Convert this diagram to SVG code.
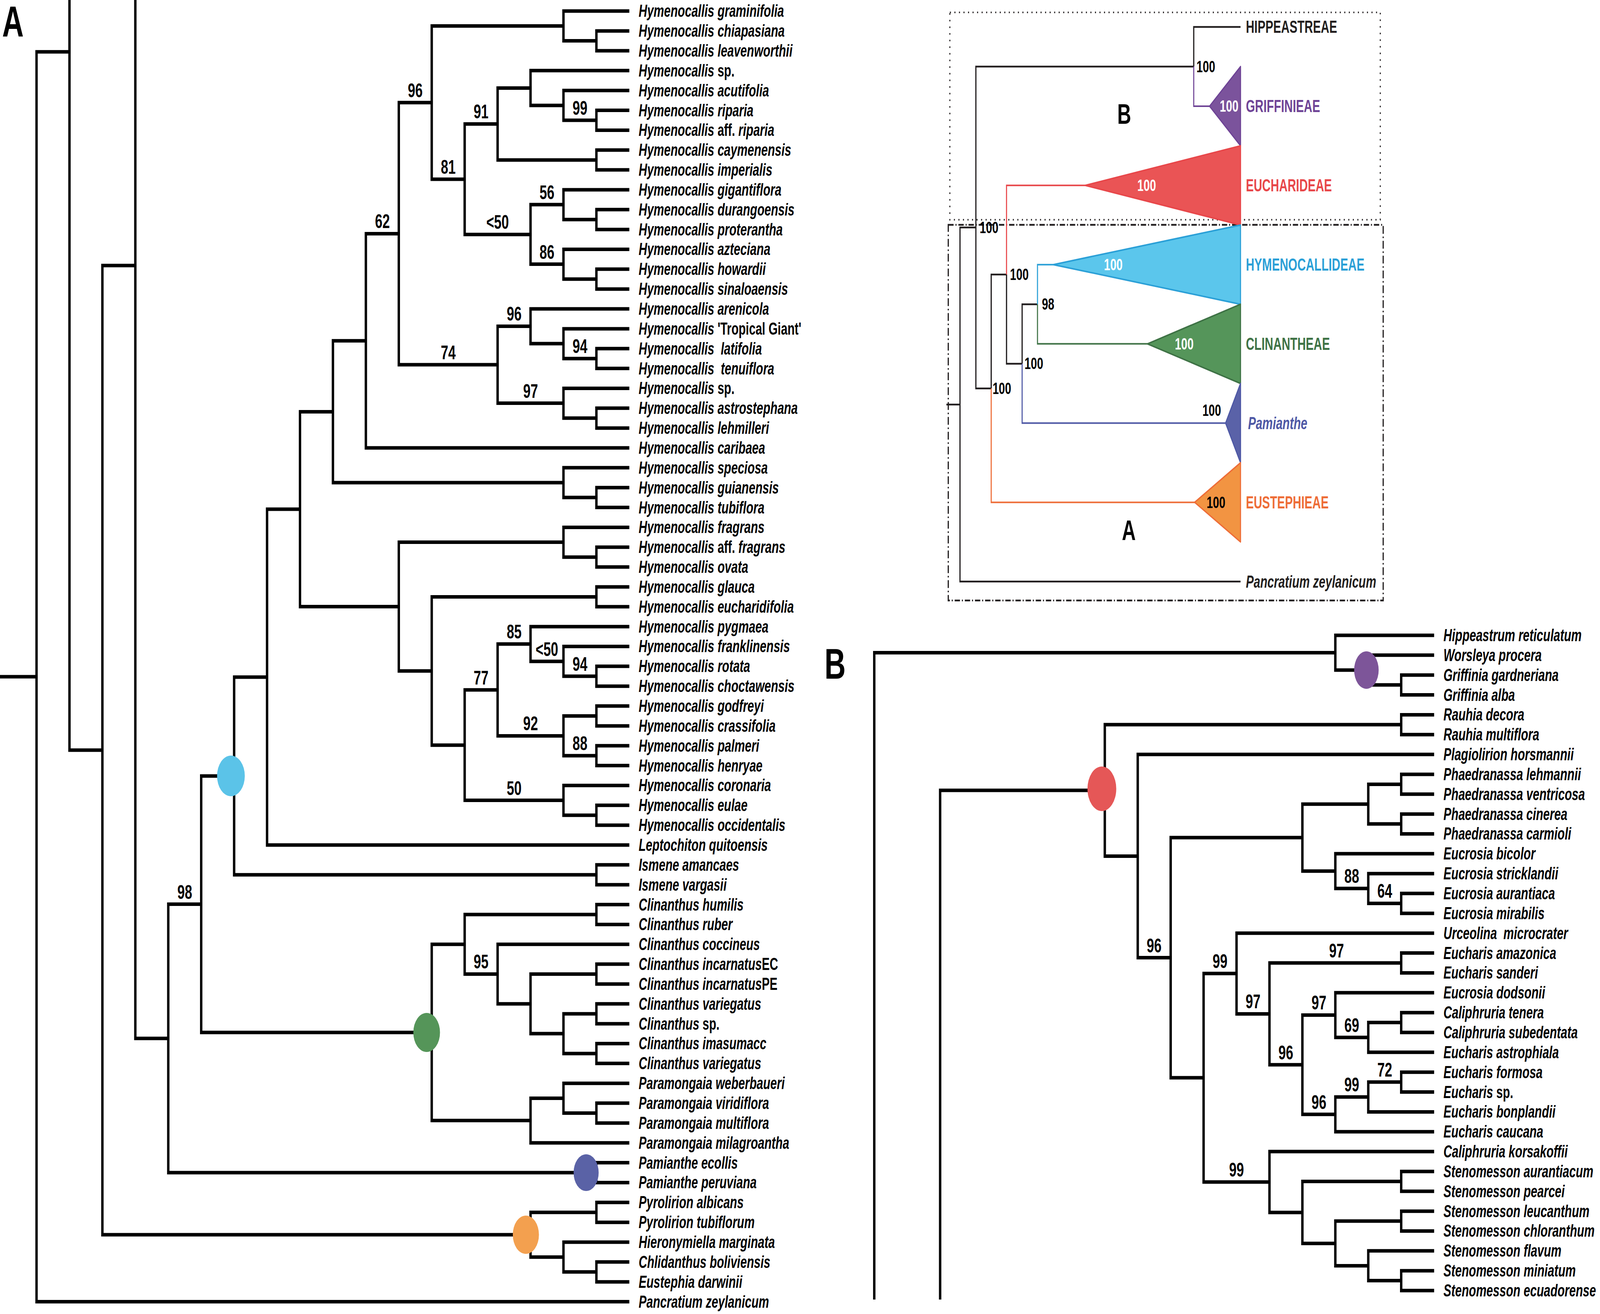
<svg xmlns="http://www.w3.org/2000/svg" width="6000" height="3365" viewBox="0 0 6000 3365" preserveAspectRatio="none">
<style>
svg{width:100vw;height:100vh;display:block}
.br{fill:none;stroke:#000;stroke-width:9;stroke-linejoin:miter}
.lf{font-family:"Liberation Sans",Arial,sans-serif;font-size:44px;font-weight:bold;font-style:italic;fill:#000}
.up{font-style:normal}
.bs{font-family:"Liberation Sans",Arial,sans-serif;font-size:50px;font-weight:bold;text-anchor:middle;fill:#000}
.ib{font-family:"Liberation Sans",Arial,sans-serif;font-size:42px;font-weight:bold;fill:#000}
.iw{fill:#fff}
.il{font-family:"Liberation Sans",Arial,sans-serif;font-size:44px;font-weight:bold}
.big{font-family:"Liberation Sans",Arial,sans-serif;font-weight:bold;fill:#000}
.ik{fill:none;stroke:#231f20;stroke-width:4.5}
</style>
<rect width="6000" height="3365" fill="#fff"/>

<!-- Panel letters -->
<text class="big" x="8" y="94" font-size="112">A</text>
<text class="big" x="3092" y="1738" font-size="110">B</text>

<!-- ============ PANEL A connectors ============ -->
<g id="connectorsA" class="br">
<path d="M0 1733.1 H137"/>
<path d="M260.5 132.7 H137 V3333.55 H2360"/>
<path d="M260.5 -10 V1921 H384"/>
<path d="M507.5 680 H384 V3162 H1989.5"/>
<path d="M507.5 -10 V2659.3 H631"/>
<path d="M754.5 2315.6 H631 V3003 H2236.5"/>
<path d="M878 1987.2 H754.5 V2644 H1619"/>
<path d="M1001.5 1734 H878 V2240.3 H2236.5"/>
<path d="M1125 1304 H1001.5 V2164 H2360"/>
<path d="M1248.5 1054.4 H1125 V1553.5 H1495.5"/>
<path d="M1372 872.7 H1248.5 V1236 H2113"/>
<path d="M1495.5 598.4 H1372 V1147 H2360"/>
<path d="M1619 262.7 H1495.5 V934.1 H1866"/>
<path d="M2113 66.4 H1619 V459 H1742.5"/>
<path d="M2360 28.3 H2113 V104.6 H2236.5"/>
<path d="M2360 79.15 H2236.5 V130 H2360"/>
<path d="M1866 317.5 H1742.5 V600.4 H1989.5"/>
<path d="M1989.5 225.4 H1866 V409.7 H2236.5"/>
<path d="M2360 180.85 H1989.5 V269.9 H2113"/>
<path d="M2360 231.7 H2113 V308 H2236.5"/>
<path d="M2360 282.55 H2236.5 V333.4 H2360"/>
<path d="M2360 384.25 H2236.5 V435.1 H2360"/>
<path d="M2113 524.1 H1989.5 V676.6 H2113"/>
<path d="M2360 485.95 H2113 V562.2 H2236.5"/>
<path d="M2360 536.8 H2236.5 V587.65 H2360"/>
<path d="M2360 638.5 H2113 V714.8 H2236.5"/>
<path d="M2360 689.35 H2236.5 V740.2 H2360"/>
<path d="M1989.5 835.5 H1866 V1032.6 H2113"/>
<path d="M2360 791.05 H1989.5 V880 H2113"/>
<path d="M2360 841.9 H2113 V918.2 H2236.5"/>
<path d="M2360 892.75 H2236.5 V943.6 H2360"/>
<path d="M2360 994.45 H2113 V1070.7 H2236.5"/>
<path d="M2360 1045.3 H2236.5 V1096.15 H2360"/>
<path d="M2360 1197.85 H2113 V1274.1 H2236.5"/>
<path d="M2360 1248.7 H2236.5 V1299.55 H2360"/>
<path d="M2113 1388.6 H1495.5 V1718.3 H1619"/>
<path d="M2360 1350.4 H2113 V1426.7 H2236.5"/>
<path d="M2360 1401.25 H2236.5 V1452.1 H2360"/>
<path d="M2236.5 1528.4 H1619 V1908.2 H1742.5"/>
<path d="M2360 1502.95 H2236.5 V1553.8 H2360"/>
<path d="M1866 1766.8 H1742.5 V2049.6 H2113"/>
<path d="M1989.5 1649.2 H1866 V1884.4 H2113"/>
<path d="M2360 1604.65 H1989.5 V1693.7 H2113"/>
<path d="M2360 1655.5 H2113 V1731.8 H2236.5"/>
<path d="M2360 1706.35 H2236.5 V1757.2 H2360"/>
<path d="M2236.5 1833.5 H2113 V1935.2 H2236.5"/>
<path d="M2360 1808.05 H2236.5 V1858.9 H2360"/>
<path d="M2360 1909.75 H2236.5 V1960.6 H2360"/>
<path d="M2360 2011.45 H2113 V2087.7 H2236.5"/>
<path d="M2360 2062.3 H2236.5 V2113.15 H2360"/>
<path d="M2360 2214.85 H2236.5 V2265.7 H2360"/>
<path d="M1742.5 2418.3 H1619 V2869.6 H1989.5"/>
<path d="M2236.5 2342 H1742.5 V2494.5 H1866"/>
<path d="M2360 2316.55 H2236.5 V2367.4 H2360"/>
<path d="M2360 2418.25 H1866 V2570.8 H1989.5"/>
<path d="M2236.5 2494.5 H1989.5 V2647.1 H2113"/>
<path d="M2360 2469.1 H2236.5 V2519.95 H2360"/>
<path d="M2236.5 2596.2 H2113 V2697.9 H2236.5"/>
<path d="M2360 2570.8 H2236.5 V2621.65 H2360"/>
<path d="M2360 2672.5 H2236.5 V2723.35 H2360"/>
<path d="M2113 2812.4 H1989.5 V2926.75 H2360"/>
<path d="M2360 2774.2 H2113 V2850.5 H2236.5"/>
<path d="M2360 2825.05 H2236.5 V2875.9 H2360"/>
<path d="M2360 2977.6 H2236.5 V3028.45 H2360"/>
<path d="M2236.5 3104.7 H1989.5 V3219.2 H2113"/>
<path d="M2360 3079.3 H2236.5 V3130.15 H2360"/>
<path d="M2360 3181 H2113 V3257.3 H2236.5"/>
<path d="M2360 3231.85 H2236.5 V3282.7 H2360"/>
</g>

<!-- clade markers A -->
<g id="markerA-hymenocallideae"><circle cx="866" cy="1987" r="52" fill="#5BC3E8"/></g>
<g id="markerA-clinantheae"><circle cx="1600" cy="2644" r="50" fill="#559559"/></g>
<g id="markerA-pamianthe"><circle cx="2198" cy="3003" r="47" fill="#5A62A6"/></g>
<g id="markerA-eustephieae"><circle cx="1972" cy="3162" r="49" fill="#F3A04F"/></g>

<!-- bootstrap A -->
<g id="supportA">
<text class="bs" x="1557" y="248.7">96</text>
<text class="bs" x="1804" y="303.5">91</text>
<text class="bs" x="2175" y="294">99</text>
<text class="bs" x="1681" y="445">81</text>
<text class="bs" x="1434" y="584.4">62</text>
<text class="bs" x="2051" y="510.1">56</text>
<text class="bs" x="1866" y="586.4">&lt;50</text>
<text class="bs" x="2051" y="662.6">86</text>
<text class="bs" x="1928" y="821.5">96</text>
<text class="bs" x="1681" y="920.1">74</text>
<text class="bs" x="2175" y="904.2">94</text>
<text class="bs" x="1989.5" y="1018.6">97</text>
<text class="bs" x="1928" y="1635.2">85</text>
<text class="bs" x="2051" y="1679.7">&lt;50</text>
<text class="bs" x="2175" y="1717.8">94</text>
<text class="bs" x="1804" y="1752.8">77</text>
<text class="bs" x="1989.5" y="1870.4">92</text>
<text class="bs" x="2175" y="1921.2">88</text>
<text class="bs" x="1928" y="2035.6">50</text>
<text class="bs" x="693" y="2301.6">98</text>
<text class="bs" x="1804" y="2480.5">95</text>
</g>

<!-- leaf labels A -->
<g id="a01"><text class="lf" x="2395" y="43.3">Hymenocallis graminifolia</text></g>
<g id="a02"><text class="lf" x="2395" y="94.15">Hymenocallis chiapasiana</text></g>
<g id="a03"><text class="lf" x="2395" y="145">Hymenocallis leavenworthii</text></g>
<g id="a04"><text class="lf" x="2395" y="195.85">Hymenocallis <tspan class="up">sp.</tspan></text></g>
<g id="a05"><text class="lf" x="2395" y="246.7">Hymenocallis acutifolia</text></g>
<g id="a06"><text class="lf" x="2395" y="297.55">Hymenocallis riparia</text></g>
<g id="a07"><text class="lf" x="2395" y="348.4">Hymenocallis <tspan class="up">aff.</tspan> riparia</text></g>
<g id="a08"><text class="lf" x="2395" y="399.25">Hymenocallis caymenensis</text></g>
<g id="a09"><text class="lf" x="2395" y="450.1">Hymenocallis imperialis</text></g>
<g id="a10"><text class="lf" x="2395" y="500.95">Hymenocallis gigantiflora</text></g>
<g id="a11"><text class="lf" x="2395" y="551.8">Hymenocallis durangoensis</text></g>
<g id="a12"><text class="lf" x="2395" y="602.65">Hymenocallis proterantha</text></g>
<g id="a13"><text class="lf" x="2395" y="653.5">Hymenocallis azteciana</text></g>
<g id="a14"><text class="lf" x="2395" y="704.35">Hymenocallis howardii</text></g>
<g id="a15"><text class="lf" x="2395" y="755.2">Hymenocallis sinaloaensis</text></g>
<g id="a16"><text class="lf" x="2395" y="806.05">Hymenocallis arenicola</text></g>
<g id="a17"><text class="lf" x="2395" y="856.9">Hymenocallis <tspan class="up">'Tropical Giant'</tspan></text></g>
<g id="a18"><text class="lf" x="2395" y="907.75">Hymenocallis&#160; latifolia</text></g>
<g id="a19"><text class="lf" x="2395" y="958.6">Hymenocallis&#160; tenuiflora</text></g>
<g id="a20"><text class="lf" x="2395" y="1009.45">Hymenocallis <tspan class="up">sp.</tspan></text></g>
<g id="a21"><text class="lf" x="2395" y="1060.3">Hymenocallis astrostephana</text></g>
<g id="a22"><text class="lf" x="2395" y="1111.15">Hymenocallis lehmilleri</text></g>
<g id="a23"><text class="lf" x="2395" y="1162">Hymenocallis caribaea</text></g>
<g id="a24"><text class="lf" x="2395" y="1212.85">Hymenocallis speciosa</text></g>
<g id="a25"><text class="lf" x="2395" y="1263.7">Hymenocallis guianensis</text></g>
<g id="a26"><text class="lf" x="2395" y="1314.55">Hymenocallis tubiflora</text></g>
<g id="a27"><text class="lf" x="2395" y="1365.4">Hymenocallis fragrans</text></g>
<g id="a28"><text class="lf" x="2395" y="1416.25">Hymenocallis <tspan class="up">aff.</tspan> fragrans</text></g>
<g id="a29"><text class="lf" x="2395" y="1467.1">Hymenocallis ovata</text></g>
<g id="a30"><text class="lf" x="2395" y="1517.95">Hymenocallis glauca</text></g>
<g id="a31"><text class="lf" x="2395" y="1568.8">Hymenocallis eucharidifolia</text></g>
<g id="a32"><text class="lf" x="2395" y="1619.65">Hymenocallis pygmaea</text></g>
<g id="a33"><text class="lf" x="2395" y="1670.5">Hymenocallis franklinensis</text></g>
<g id="a34"><text class="lf" x="2395" y="1721.35">Hymenocallis rotata</text></g>
<g id="a35"><text class="lf" x="2395" y="1772.2">Hymenocallis choctawensis</text></g>
<g id="a36"><text class="lf" x="2395" y="1823.05">Hymenocallis godfreyi</text></g>
<g id="a37"><text class="lf" x="2395" y="1873.9">Hymenocallis crassifolia</text></g>
<g id="a38"><text class="lf" x="2395" y="1924.75">Hymenocallis palmeri</text></g>
<g id="a39"><text class="lf" x="2395" y="1975.6">Hymenocallis henryae</text></g>
<g id="a40"><text class="lf" x="2395" y="2026.45">Hymenocallis coronaria</text></g>
<g id="a41"><text class="lf" x="2395" y="2077.3">Hymenocallis eulae</text></g>
<g id="a42"><text class="lf" x="2395" y="2128.15">Hymenocallis occidentalis</text></g>
<g id="a43"><text class="lf" x="2395" y="2179">Leptochiton quitoensis</text></g>
<g id="a44"><text class="lf" x="2395" y="2229.85">Ismene amancaes</text></g>
<g id="a45"><text class="lf" x="2395" y="2280.7">Ismene vargasii</text></g>
<g id="a46"><text class="lf" x="2395" y="2331.55">Clinanthus humilis</text></g>
<g id="a47"><text class="lf" x="2395" y="2382.4">Clinanthus ruber</text></g>
<g id="a48"><text class="lf" x="2395" y="2433.25">Clinanthus coccineus</text></g>
<g id="a49"><text class="lf" x="2395" y="2484.1">Clinanthus incarnatus<tspan class="up">EC</tspan></text></g>
<g id="a50"><text class="lf" x="2395" y="2534.95">Clinanthus incarnatus<tspan class="up">PE</tspan></text></g>
<g id="a51"><text class="lf" x="2395" y="2585.8">Clinanthus variegatus</text></g>
<g id="a52"><text class="lf" x="2395" y="2636.65">Clinanthus <tspan class="up">sp.</tspan></text></g>
<g id="a53"><text class="lf" x="2395" y="2687.5">Clinanthus imasumacc</text></g>
<g id="a54"><text class="lf" x="2395" y="2738.35">Clinanthus variegatus</text></g>
<g id="a55"><text class="lf" x="2395" y="2789.2">Paramongaia weberbaueri</text></g>
<g id="a56"><text class="lf" x="2395" y="2840.05">Paramongaia viridiflora</text></g>
<g id="a57"><text class="lf" x="2395" y="2890.9">Paramongaia multiflora</text></g>
<g id="a58"><text class="lf" x="2395" y="2941.75">Paramongaia milagroantha</text></g>
<g id="a59"><text class="lf" x="2395" y="2992.6">Pamianthe ecollis</text></g>
<g id="a60"><text class="lf" x="2395" y="3043.45">Pamianthe peruviana</text></g>
<g id="a61"><text class="lf" x="2395" y="3094.3">Pyrolirion albicans</text></g>
<g id="a62"><text class="lf" x="2395" y="3145.15">Pyrolirion tubiflorum</text></g>
<g id="a63"><text class="lf" x="2395" y="3196">Hieronymiella marginata</text></g>
<g id="a64"><text class="lf" x="2395" y="3246.85">Chlidanthus boliviensis</text></g>
<g id="a65"><text class="lf" x="2395" y="3297.7">Eustephia darwinii</text></g>
<g id="a66"><text class="lf" x="2395" y="3348.55">Pancratium zeylanicum</text></g>

<!-- ============ INSET ============ -->
<g id="inset-boxes">
<rect x="3562" y="31.7" width="1614" height="531" fill="none" stroke="#231f20" stroke-width="4" stroke-dasharray="4 13"/>
<rect x="3556" y="575.8" width="1631" height="962" fill="none" stroke="#231f20" stroke-width="4.5" stroke-dasharray="20 7 4 7"/>
</g>
<g id="inset-connectors">
<path class="ik" d="M3549 1036 H3600"/>
<path class="ik" d="M3659.5 582.6 H3600 V1489.3 H4652"/>
<path class="ik" d="M4476.5 170.4 H3659.5 V994.8 H3717"/>
<path class="ik" d="M4652 69 H4476.5 V170.4"/>
<path d="M4476.5 170.4 V271.9 H4536" fill="none" stroke="#6F4496" stroke-width="4"/>
<path class="ik" d="M3774.5 703.1 H3717 V994.8"/>
<path d="M3717 994.8 V1286.4 H4480" fill="none" stroke="#EE6D37" stroke-width="4"/>
<path d="M4070 474.8 H3774.5 V703.1" fill="none" stroke="#E8474A" stroke-width="4"/>
<path class="ik" d="M3774.5 703.1 V931.4 H3833"/>
<path class="ik" d="M3890.6 779.2 H3833 V931.4"/>
<path d="M3833 931.4 V1083.5 H4596" fill="none" stroke="#4E58A5" stroke-width="4"/>
<path d="M3950 677.7 H3890.6 V779.2" fill="none" stroke="#2BA0D7" stroke-width="4"/>
<path d="M3890.6 779.2 V880.6 H4303" fill="none" stroke="#3E7245" stroke-width="4"/>
</g>
<g id="inset-griffinieae">
<path d="M4536 271.9 L4652 170.45 L4652 373.35 Z" fill="#7B539C" stroke="#6F4496" stroke-width="4" stroke-linejoin="round"/>
<text class="ib iw" x="4574" y="286.5">100</text>
<text class="il" x="4672" y="287.4" fill="#6F4496">GRIFFINIEAE</text>
</g>
<g id="inset-hippeastreae"><text class="il" x="4672" y="84.5" fill="#231f20">HIPPEASTREAE</text></g>
<g id="inset-euchari">
<path d="M4070 474.8 L4652 373.35 L4652 576.25 Z" fill="#EA5455" stroke="#E8474A" stroke-width="4" stroke-linejoin="round"/>
<text class="ib iw" x="4265" y="489.5">100</text>
<text class="il" x="4672" y="490.3" fill="#E8474A">EUCHARIDEAE</text>
</g>
<g id="inset-hymeno">
<path d="M3950 677.7 L4652 576.25 L4652 779.15 Z" fill="#5BC6EC" stroke="#2BA0D7" stroke-width="4" stroke-linejoin="round"/>
<text class="ib iw" x="4140" y="692.5">100</text>
<text class="il" x="4672" y="693.2" fill="#2BA0D7">HYMENOCALLIDEAE</text>
</g>
<g id="inset-clin">
<path d="M4303 880.6 L4652 779.15 L4652 982.05 Z" fill="#55955A" stroke="#3E7245" stroke-width="4" stroke-linejoin="round"/>
<text class="ib iw" x="4406" y="895.5">100</text>
<text class="il" x="4672" y="896.1" fill="#3E7245">CLINANTHEAE</text>
</g>
<g id="inset-pamianthe">
<path d="M4596 1083.5 L4652 982.05 L4652 1184.95 Z" fill="#5A62A8" stroke="#4E58A5" stroke-width="4" stroke-linejoin="round"/>
<text class="ib" x="4509" y="1065">100</text>
<text class="il" x="4680" y="1099" fill="#4E58A5" font-style="italic">Pamianthe</text>
</g>
<g id="inset-eust">
<path d="M4480 1286.4 L4652 1184.95 L4652 1387.85 Z" fill="#F29442" stroke="#EE6D37" stroke-width="4" stroke-linejoin="round"/>
<text class="ib" x="4525" y="1301">100</text>
<text class="il" x="4672" y="1301.9" fill="#EE6D37">EUSTEPHIEAE</text>
</g>
<g id="inset-pancratium"><text class="il" x="4672" y="1504.8" fill="#231f20" font-style="italic">Pancratium zeylanicum</text></g>
<g id="inset-support">
<text class="ib" x="3674" y="597">100</text>
<text class="ib" x="4487" y="185">100</text>
<text class="ib" x="3722" y="1009">100</text>
<text class="ib" x="3787.5" y="717">100</text>
<text class="ib" x="3842" y="945.5">100</text>
<text class="ib" x="3907" y="793.5">98</text>
</g>
<g id="inset-letters">
<text class="big" x="4216" y="317" font-size="72" text-anchor="middle">B</text>
<text class="big" x="4233" y="1383" font-size="72" text-anchor="middle">A</text>
</g>

<!-- ============ PANEL B connectors ============ -->
<g id="connectorsB" class="br">
<path d="M5007.5 1671.5 H3278.5 V3328"/>
<path d="M4143 2024.1 H3525.5 V3328"/>
<path d="M5378 1627 H5007.5 V1716 H5131"/>
<path d="M5378 1677.85 H5131 V1754.1 H5254.5"/>
<path d="M5378 1728.7 H5254.5 V1779.55 H5378"/>
<path d="M5254.5 1855.8 H4143 V2192.4 H4266.5"/>
<path d="M5378 1830.4 H5254.5 V1881.25 H5378"/>
<path d="M5378 1932.1 H4266.5 V2452.6 H4390"/>
<path d="M4884 2145 H4390 V2760.1 H4513.5"/>
<path d="M5131 2059.2 H4884 V2230.8 H5007.5"/>
<path d="M5254.5 2008.4 H5131 V2110.1 H5254.5"/>
<path d="M5378 1982.95 H5254.5 V2033.8 H5378"/>
<path d="M5378 2084.65 H5254.5 V2135.5 H5378"/>
<path d="M5378 2186.35 H5007.5 V2275.3 H5131"/>
<path d="M5378 2237.2 H5131 V2313.5 H5254.5"/>
<path d="M5378 2288.05 H5254.5 V2338.9 H5378"/>
<path d="M4637 2493.1 H4513.5 V3027 H4760.5"/>
<path d="M5378 2389.75 H4637 V2596.4 H4760.5"/>
<path d="M5254.5 2466 H4760.5 V2726.7 H4884"/>
<path d="M5378 2440.6 H5254.5 V2491.45 H5378"/>
<path d="M5007.5 2599.5 H4884 V2853.8 H5007.5"/>
<path d="M5378 2542.3 H5007.5 V2656.7 H5131"/>
<path d="M5254.5 2618.6 H5131 V2694.85 H5378"/>
<path d="M5378 2593.15 H5254.5 V2644 H5378"/>
<path d="M5131 2809.3 H5007.5 V2898.25 H5378"/>
<path d="M5254.5 2771.1 H5131 V2847.4 H5378"/>
<path d="M5378 2745.7 H5254.5 V2796.55 H5378"/>
<path d="M5378 2949.1 H4760.5 V3104.9 H4884"/>
<path d="M5254.5 3025.4 H4884 V3184.3 H5007.5"/>
<path d="M5378 2999.95 H5254.5 V3050.8 H5378"/>
<path d="M5254.5 3127.1 H5007.5 V3241.5 H5131"/>
<path d="M5378 3101.65 H5254.5 V3152.5 H5378"/>
<path d="M5378 3203.35 H5131 V3279.6 H5254.5"/>
<path d="M5378 3254.2 H5254.5 V3305.05 H5378"/>
</g>
<g id="markerB-euchari"><ellipse cx="4132" cy="2020" rx="54" ry="57" fill="#E55757"/></g>
<g id="markerB-griffinieae"><ellipse cx="5124" cy="1716" rx="46" ry="48" fill="#7D5599"/></g>

<g id="supportB">
<text class="bs" x="5069" y="2261.3">88</text>
<text class="bs" x="5193" y="2299.5">64</text>
<text class="bs" x="4328" y="2438.6">96</text>
<text class="bs" x="4575" y="2479.1">99</text>
<text class="bs" x="4699" y="2582.4">97</text>
<text class="bs" x="5012" y="2452">97</text>
<text class="bs" x="4822" y="2712.7">96</text>
<text class="bs" x="4946" y="2585.5">97</text>
<text class="bs" x="5069" y="2642.7">69</text>
<text class="bs" x="4946" y="2839.8">96</text>
<text class="bs" x="5069" y="2795.3">99</text>
<text class="bs" x="5193" y="2757.1">72</text>
<text class="bs" x="4637" y="3013">99</text>
</g>

<g id="b01"><text class="lf" x="5413" y="1642">Hippeastrum reticulatum</text></g>
<g id="b02"><text class="lf" x="5413" y="1692.85">Worsleya procera</text></g>
<g id="b03"><text class="lf" x="5413" y="1743.7">Griffinia gardneriana</text></g>
<g id="b04"><text class="lf" x="5413" y="1794.55">Griffinia alba</text></g>
<g id="b05"><text class="lf" x="5413" y="1845.4">Rauhia decora</text></g>
<g id="b06"><text class="lf" x="5413" y="1896.25">Rauhia multiflora</text></g>
<g id="b07"><text class="lf" x="5413" y="1947.1">Plagiolirion horsmannii</text></g>
<g id="b08"><text class="lf" x="5413" y="1997.95">Phaedranassa lehmannii</text></g>
<g id="b09"><text class="lf" x="5413" y="2048.8">Phaedranassa ventricosa</text></g>
<g id="b10"><text class="lf" x="5413" y="2099.65">Phaedranassa cinerea</text></g>
<g id="b11"><text class="lf" x="5413" y="2150.5">Phaedranassa carmioli</text></g>
<g id="b12"><text class="lf" x="5413" y="2201.35">Eucrosia bicolor</text></g>
<g id="b13"><text class="lf" x="5413" y="2252.2">Eucrosia stricklandii</text></g>
<g id="b14"><text class="lf" x="5413" y="2303.05">Eucrosia aurantiaca</text></g>
<g id="b15"><text class="lf" x="5413" y="2353.9">Eucrosia mirabilis</text></g>
<g id="b16"><text class="lf" x="5413" y="2404.75">Urceolina&#160; microcrater</text></g>
<g id="b17"><text class="lf" x="5413" y="2455.6">Eucharis amazonica</text></g>
<g id="b18"><text class="lf" x="5413" y="2506.45">Eucharis sanderi</text></g>
<g id="b19"><text class="lf" x="5413" y="2557.3">Eucrosia dodsonii</text></g>
<g id="b20"><text class="lf" x="5413" y="2608.15">Caliphruria tenera</text></g>
<g id="b21"><text class="lf" x="5413" y="2659">Caliphruria subedentata</text></g>
<g id="b22"><text class="lf" x="5413" y="2709.85">Eucharis astrophiala</text></g>
<g id="b23"><text class="lf" x="5413" y="2760.7">Eucharis formosa</text></g>
<g id="b24"><text class="lf" x="5413" y="2811.55">Eucharis <tspan class="up">sp.</tspan></text></g>
<g id="b25"><text class="lf" x="5413" y="2862.4">Eucharis bonplandii</text></g>
<g id="b26"><text class="lf" x="5413" y="2913.25">Eucharis caucana</text></g>
<g id="b27"><text class="lf" x="5413" y="2964.1">Caliphruria korsakoffii</text></g>
<g id="b28"><text class="lf" x="5413" y="3014.95">Stenomesson aurantiacum</text></g>
<g id="b29"><text class="lf" x="5413" y="3065.8">Stenomesson pearcei</text></g>
<g id="b30"><text class="lf" x="5413" y="3116.65">Stenomesson leucanthum</text></g>
<g id="b31"><text class="lf" x="5413" y="3167.5">Stenomesson chloranthum</text></g>
<g id="b32"><text class="lf" x="5413" y="3218.35">Stenomesson flavum</text></g>
<g id="b33"><text class="lf" x="5413" y="3269.2">Stenomesson miniatum</text></g>
<g id="b34"><text class="lf" x="5413" y="3320.05">Stenomesson ecuadorense</text></g>
</svg>
